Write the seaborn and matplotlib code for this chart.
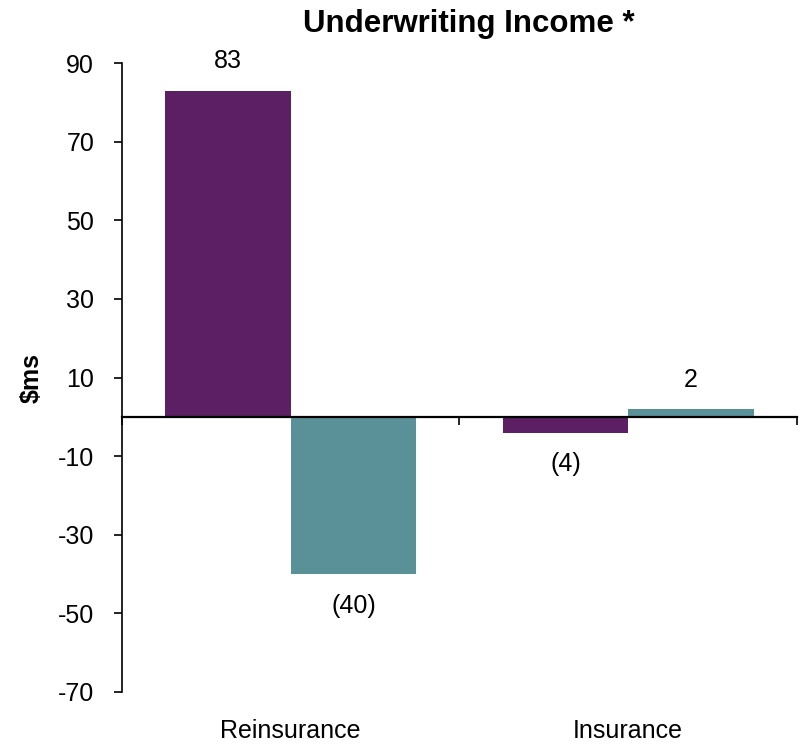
import matplotlib
matplotlib.use("Agg")
import matplotlib.pyplot as plt
import seaborn as sns
import pandas as pd

categories = ["Reinsurance", "Insurance"]
series_names = ["Series A", "Series B"]
series_a = [83, -4]
series_b = [-40, 2]
yticks = [-70, -50, -30, -10, 10, 30, 50, 70, 90]
colors = ["#5C1F63", "#5A9199"]

df = pd.DataFrame({
    "category": categories * 2,
    "series": [series_names[0]] * 2 + [series_names[1]] * 2,
    "value": series_a + series_b,
})

sns.set_theme(style="white")
plt.rcParams["font.family"] = ["Liberation Sans", "DejaVu Sans"]
plt.rcParams["text.color"] = "black"
plt.rcParams["axes.labelcolor"] = "black"

fig = plt.figure(figsize=(8.03, 7.44), dpi=100)
ax = fig.add_axes([0.1519, 0.0699, 0.8406, 0.8454])

sns.barplot(data=df, x="category", y="value", hue="series", order=categories,
            hue_order=series_names, palette=colors, width=0.744, saturation=1,
            legend=False, ax=ax, errorbar=None, linewidth=0)

ax.set_xlim(-0.5, 1.5)
ax.set_ylim(-70, 90)
ax.set_yticks(yticks)
ax.set_yticklabels([str(t) for t in yticks], fontsize=18)
ax.tick_params(axis="y", direction="out", length=6, width=1.2, pad=14, left=True,
               colors="black", labelcolor="black")

for s in ["top", "right"]:
    ax.spines[s].set_visible(False)
ax.spines["left"].set_color("black")
ax.spines["left"].set_linewidth(1.2)
ax.spines["bottom"].set_position(("data", 0))
ax.spines["bottom"].set_color("black")
ax.spines["bottom"].set_linewidth(1.6)
ax.spines["bottom"].set_zorder(5)

ax.set_xticks([0, 1])
ax.set_xticklabels(["", ""])
ax.tick_params(axis="x", which="major", length=0)
ax.set_xticks([-0.5, 0.5, 1.5], minor=True)
ax.tick_params(axis="x", which="minor", direction="out", length=6, width=1.2,
               bottom=True, colors="black")

for i, c in enumerate(categories):
    ax.annotate(c, xy=(i, 0), xycoords=("data", "axes fraction"),
                xytext=(0, -28), textcoords="offset points",
                ha="center", va="center", fontsize=18, color="black")

def fmt(v):
    return f"({abs(v)})" if v < 0 else f"{v}"

for cont in ax.containers:
    for bar in cont:
        h = bar.get_height()
        y = bar.get_y() + h
        xc = bar.get_x() + bar.get_width() / 2
        off = 21 if h >= 0 else -23
        ax.annotate(fmt(round(h)), xy=(xc, y), xytext=(0, off), textcoords="offset points",
                    ha="center", va="center", fontsize=18, color="black")

ax.set_xlabel("")
ax.set_ylabel("$ms", fontsize=18, fontweight="bold", labelpad=10, color="black")
fig.text(0.584, 0.968, "Underwriting Income *", ha="center", va="center",
         fontsize=22.5, fontweight="bold", color="black")

fig.savefig("out.png", dpi=100)
